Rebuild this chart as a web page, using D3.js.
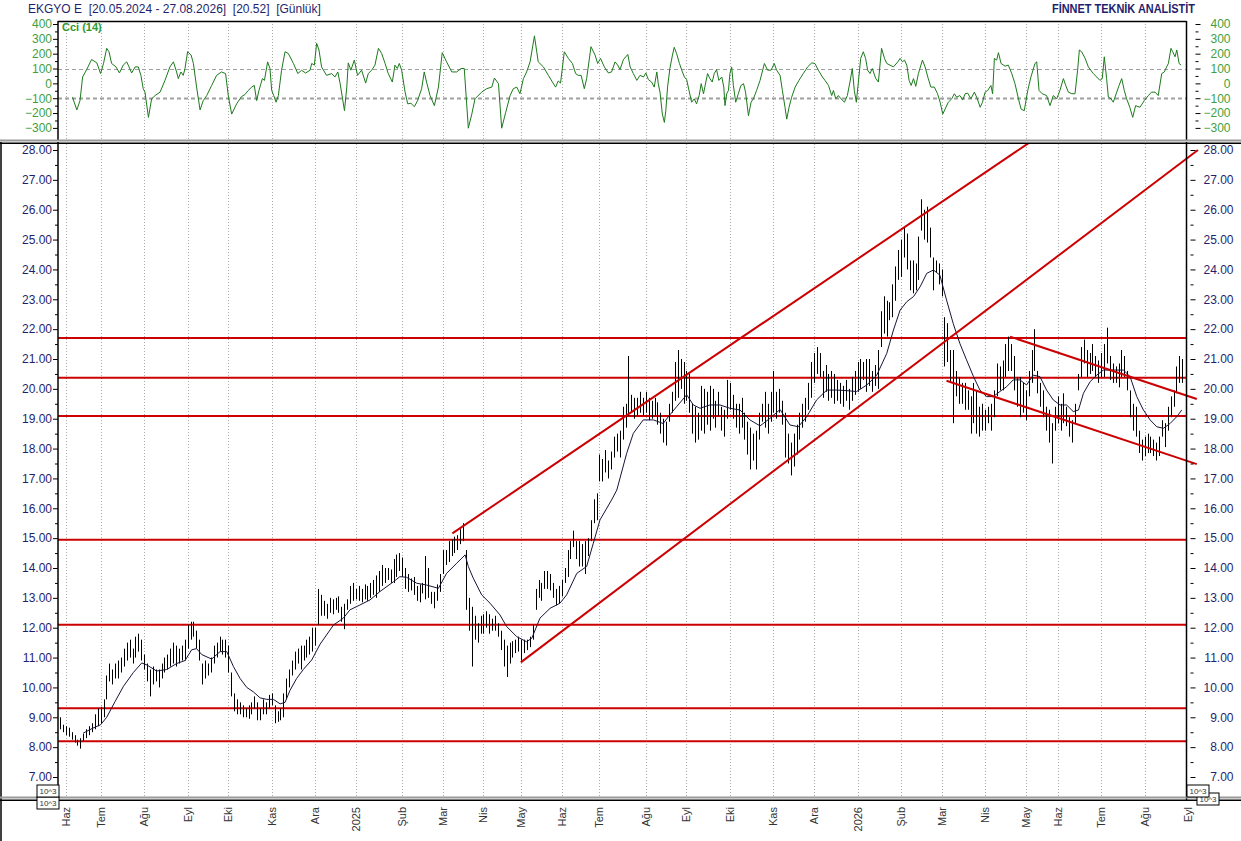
<!DOCTYPE html>
<html>
<head>
<meta charset="utf-8">
<script src="https://cdn.jsdelivr.net/npm/d3@7"></script>
<style>
  body { margin: 0; background: #fff; }
  svg { display: block; }
  text { font-family: Arial, "Liberation Sans", sans-serif; }
</style>
</head>
<body>
<svg width="1241" height="841"></svg>
<script>
// month labels and the bar index where each month starts
const months = ["Haz","Tem","Ağu","Eyl","Eki","Kas","Ara","2025","Şub","Mar","Nis","May","Haz","Tem",
  "Ağu","Eyl","Eki","Kas","Ara","2026","Şub","Mar","Nis","May","Haz","Tem","Ağu","Eyl"];
const monthBar = [2,14,29,44,58,73,88,102,118,132,146,159,173,186,202,216,231,246,260,275,290,304,319,333,344,359,374,389];

// daily highs / lows, one per bar
const high = [
  9.0,8.75,8.7,8.65,8.5,8.4,8.25,8.3,8.45,8.6,
  8.7,8.8,9.1,9.3,9.35,9.6,10.4,10.8,10.6,10.8,
  10.9,11.0,11.3,11.5,11.6,11.3,11.7,11.8,11.6,11.1,
  10.8,10.6,10.7,10.6,10.6,10.8,11.0,11.1,11.3,11.5,
  11.4,11.3,11.4,11.6,12.1,12.2,12.2,11.9,11.6,10.8,
  10.9,10.8,11.0,11.4,11.5,11.7,11.6,11.6,11.4,10.5,
  9.8,9.6,9.5,9.4,9.3,9.4,9.5,9.7,9.5,9.3,
  9.6,9.5,9.75,9.8,9.4,9.2,9.3,9.8,10.3,10.6,
  10.9,11.2,11.3,11.4,11.4,11.6,11.7,12.0,12.0,13.3,
  13.1,12.9,12.8,13.0,12.95,13.0,13.05,12.7,12.8,12.95,
  13.4,13.5,13.3,13.4,13.3,13.45,13.4,13.5,13.6,13.75,
  13.9,14.1,14.0,14.0,13.95,14.3,14.45,14.5,14.35,14.0,
  13.8,13.65,13.7,13.4,13.45,13.5,14.4,14.0,13.2,13.2,
  13.45,13.8,14.6,14.6,14.9,14.95,15.05,15.1,15.3,15.5,
  14.6,13.0,12.7,12.4,12.15,12.4,12.45,12.55,12.45,12.3,
  12.4,12.15,11.9,11.6,11.4,11.5,11.55,11.6,11.7,11.6,
  11.6,11.6,11.7,12.1,13.3,13.6,13.5,13.9,13.9,13.8,
  13.5,13.3,13.4,13.6,14.0,14.6,14.9,15.25,14.9,14.9,
  14.8,14.9,15.0,15.6,16.3,16.5,17.8,17.65,17.95,17.6,
  17.9,18.4,18.5,18.6,19.4,19.5,21.1,19.8,19.7,19.7,
  19.9,19.7,19.9,19.7,19.6,19.7,19.55,19.2,19.0,18.9,
  19.5,19.9,20.9,21.3,21.0,20.9,20.6,20.5,19.5,19.4,
  19.2,20.1,20.0,19.9,20.1,20.0,19.6,19.9,19.4,19.3,
  20.3,20.2,19.8,19.5,19.5,19.7,19.2,18.9,18.7,18.5,
  18.6,19.2,19.5,19.9,19.5,19.9,20.6,19.9,20.0,19.6,
  19.2,18.5,18.2,18.5,18.8,19.2,19.5,19.7,20.2,20.9,
  21.2,21.4,21.2,20.6,20.8,20.5,20.6,20.5,20.3,20.2,
  20.1,20.3,20.0,20.4,20.6,20.9,21.0,20.9,21.0,21.0,
  20.6,20.8,21.3,22.6,23.1,22.95,22.9,23.5,24.1,24.65,
  25.0,25.4,25.2,24.3,24.3,24.2,25.1,26.35,26.0,26.1,
  25.4,24.4,24.3,24.2,24.0,22.4,22.2,21.3,21.3,20.6,
  20.4,20.2,20.2,19.95,19.75,20.2,19.95,19.4,19.5,19.3,
  19.4,19.5,19.95,20.85,20.75,20.95,21.5,21.75,21.5,21.1,
  20.4,20.4,20.2,19.95,20.6,21.3,22.0,20.6,20.2,19.95,
  19.4,19.3,18.85,19.4,19.75,19.5,19.85,19.4,19.05,18.95,
  19.5,20.5,21.4,21.65,21.3,21.2,21.5,21.1,20.95,21.2,
  21.5,22.05,21.1,20.85,20.75,20.85,21.3,21.1,20.6,19.95,
  19.5,19.4,18.6,18.3,18.4,18.5,18.4,18.3,18.2,18.4,
  18.95,18.85,19.4,19.75,19.95,20.75,21.1,21.0
];
const low = [
  8.6,8.5,8.4,8.35,8.25,8.15,8.05,7.95,8.2,8.3,
  8.4,8.5,8.6,8.7,8.8,9.0,9.6,10.2,10.1,10.3,
  10.3,10.5,10.7,10.9,11.0,10.8,11.0,11.2,10.9,10.6,
  10.2,9.7,10.1,10.2,10.0,10.3,10.5,10.6,10.7,10.8,
  10.7,10.8,10.9,10.9,11.3,11.6,11.7,11.3,10.9,10.1,
  10.3,10.4,10.5,10.8,11.0,11.2,11.1,11.0,10.5,9.7,
  9.2,9.1,9.1,9.0,9.0,8.95,9.1,9.3,8.9,8.9,
  9.1,9.1,9.3,9.4,8.8,8.85,8.9,9.0,9.6,10.0,
  10.4,10.6,10.8,10.6,10.9,11.0,11.1,11.2,11.4,12.1,
  12.4,12.4,12.3,12.5,12.45,12.6,12.5,12.2,11.95,12.6,
  12.8,12.9,12.95,12.9,12.85,12.95,12.9,13.0,13.1,13.0,
  13.2,13.4,13.5,13.6,13.5,13.5,13.7,13.9,13.7,13.3,
  13.2,13.25,13.1,12.9,12.85,13.15,12.95,13.0,12.8,12.65,
  12.9,13.2,13.8,14.1,14.2,14.4,14.5,14.6,14.8,14.9,
  12.6,11.9,10.7,11.6,11.5,11.8,11.8,12.0,11.8,11.9,
  11.9,11.7,11.25,10.7,10.35,10.8,11.0,11.15,11.2,10.9,
  11.15,11.25,11.35,11.6,12.6,13.0,12.9,13.3,13.3,13.25,
  13.0,12.75,12.8,13.05,13.5,13.7,14.3,14.7,14.3,14.05,
  14.05,13.8,14.4,14.9,15.5,15.6,16.9,16.9,17.2,17.0,
  17.3,17.7,17.9,17.7,18.3,18.7,19.1,19.2,19.0,19.1,
  19.2,19.1,19.2,18.95,19.0,19.1,18.8,18.5,18.2,18.1,
  18.9,19.2,19.6,19.7,20.0,19.5,19.6,19.2,18.5,18.2,
  18.3,18.6,18.5,18.8,18.6,19.0,18.7,19.1,18.6,18.4,
  19.0,19.3,19.0,18.7,18.5,18.7,18.3,17.8,17.3,17.6,
  17.3,18.3,18.9,18.7,18.5,18.9,19.2,19.0,19.2,18.8,
  17.7,17.5,17.1,17.4,17.8,18.3,18.7,18.9,19.3,19.7,
  20.2,20.5,20.4,19.7,19.9,19.6,19.7,19.5,19.6,19.5,
  19.4,19.6,19.3,19.6,19.8,19.9,20.0,20.3,19.9,20.1,
  19.9,20.1,20.0,21.4,21.85,21.75,22.3,22.4,22.95,23.65,
  23.75,24.4,24.0,23.3,23.2,23.3,23.65,25.3,25.0,24.9,
  24.4,23.3,23.9,23.5,23.1,20.75,20.9,20.2,18.85,19.75,
  19.5,19.5,19.3,19.3,18.5,18.85,18.5,18.4,18.6,18.6,
  18.85,18.6,19.05,19.75,19.95,19.95,20.4,20.6,20.6,19.95,
  19.4,19.05,19.2,18.95,19.75,20.2,20.6,19.85,19.4,19.05,
  18.6,18.2,17.5,18.6,18.85,18.6,18.85,18.75,18.4,18.2,
  18.85,19.95,20.4,20.85,20.4,20.5,20.6,20.4,20.2,20.4,
  20.4,20.85,20.3,20.2,20.2,20.05,20.4,20.4,19.95,19.05,
  18.6,18.4,17.85,17.6,17.75,17.85,17.85,17.75,17.6,17.75,
  18.4,18.05,18.6,19.05,19.4,19.85,20.2,20.2
];

// moving average, [bar, value]
const maPts = [
  [8,8.47],[11.4,8.64],[14,8.75],[16.1,9.0],[19,9.53],[21.9,10.04],[25.3,10.5],[28.2,10.82],[30,10.75],
  [33.3,10.55],[36.8,10.6],[40.2,10.8],[43.1,10.9],[45.4,11.26],[47.1,11.3],[48.9,11.1],[52.3,10.95],
  [55.2,11.2],[57.5,11.2],[59.8,10.7],[62.1,10.3],[64.4,10.0],[66.7,9.85],[69,9.65],[71.3,9.6],[73.6,9.6],
  [75.9,9.45],[77.6,9.5],[79.3,9.9],[81.6,10.3],[83.9,10.6],[86.8,10.92],[89.7,11.45],[94.3,12.09],
  [97.7,12.32],[100,12.6],[103.4,12.76],[106.9,12.93],[110.3,13.21],[115,13.54],[117.2,13.71],[119.5,13.69],
  [123,13.49],[126.4,13.43],[130.5,13.32],[133.3,13.82],[136.8,14.16],[139.7,14.44],[140.8,14.05],
  [142.5,13.66],[145.4,13.1],[148.3,12.82],[151.7,12.43],[154,12.04],[157.5,11.7],[160.9,11.53],
  [162.7,11.65],[165.5,12.32],[169,12.65],[172.4,12.82],[174.7,13.1],[178.2,13.82],[181.6,14.05],
  [183.9,14.83],[186.2,15.61],[190.2,16.28],[192,16.61],[195.4,17.84],[197.7,18.51],[201.1,18.96],
  [204.6,18.96],[208,18.84],[209.8,19.07],[212.6,19.4],[216.1,19.8],[218.4,19.46],[220.7,19.35],
  [224.1,19.46],[227.6,19.46],[231,19.35],[234.5,19.29],[237.9,18.96],[241.4,18.76],[244.8,19.01],
  [248.3,19.31],[251.7,18.79],[254.6,18.73],[257.5,19.07],[260.9,19.63],[264.4,19.96],[267.8,19.96],
  [271.3,19.94],[274.7,19.91],[278.2,20.13],[281.6,20.45],[285.1,21.19],[287.4,21.97],[289.7,22.64],
  [292,22.92],[294.3,23.09],[296.6,23.42],[298.9,23.87],[301.2,23.98],[303.4,23.81],[305.7,22.98],
  [308,22.19],[310.3,21.52],[312.6,20.97],[315,20.41],[317.2,19.96],[319.5,19.74],[321.8,19.74],
  [324.1,19.91],[326.4,20.07],[328.7,20.3],[331,20.3],[333.3,20.13],[335.6,20.46],[337.9,20.41],
  [340.2,19.96],[342.5,19.63],[344.8,19.46],[347.1,19.46],[349.4,19.24],[351.2,19.29],[352.9,19.85],
  [355.2,20.24],[357.5,20.46],[359.8,20.63],[363.2,20.63],[366.7,20.63],[369,20.41],[371.3,19.74],
  [373.6,19.29],[375.9,18.96],[378.2,18.73],[380.5,18.68],[382.8,18.84],[385.1,19.07],[386.8,19.29]
];

// CCI(14), [bar, value]
const cciPts = [
  [4.3,-93],[5.8,-179],[6.9,-116],[7.8,43],[9.2,93],[10.9,161],[12.7,138],[14.0,66],[15.0,134],[16.1,236],
  [16.9,213],[17.8,134],[19.3,111],[20.5,70],[21.8,123],[23.0,145],[23.8,111],[24.7,70],[25.9,111],[27.0,111],
  [27.9,54],[28.7,-36],[29.3,-59],[30.5,-229],[31.6,-104],[32.8,-82],[34.5,-59],[36.2,20],[37.9,111],[39.1,145],
  [40.2,77],[40.8,32],[41.7,77],[42.5,54],[43.1,100],[44.0,213],[45.2,191],[46.0,134],[47.1,-25],[48.3,-179],
  [49.4,-116],[50.6,-82],[52.3,-14],[54.0,54],[55.7,77],[57.1,66],[58.1,-93],[59.2,-207],[60.9,-138],[62.6,-89],
  [63.8,-75],[64.9,-48],[66.1,-25],[67.0,-14],[67.8,-116],[68.6,-48],[69.8,32],[70.5,20],[71.6,145],[72.4,100],
  [73.0,-48],[73.7,-82],[74.5,-127],[75.3,-82],[76.4,88],[77.6,213],[78.7,202],[80.5,134],[82.0,66],[83.3,88],
  [84.7,70],[86.2,88],[86.8,134],[87.7,123],[88.5,270],[89.3,225],[90.2,111],[91.9,54],[93.7,66],[94.8,43],
  [95.8,77],[96.6,-2],[98.1,-184],[98.9,-25],[99.4,138],[100.3,89],[101.5,157],[102.6,54],[104.0,89],[105.4,2],
  [106.3,66],[107.5,89],[108.6,123],[109.8,236],[110.9,202],[112.1,134],[113.2,66],[114.6,9],[115.5,123],[116.3,100],
  [117.0,134],[117.8,89],[119.0,-59],[119.9,-138],[121.0,-134],[122.2,-157],[123.3,-116],[124.7,-36],[125.6,77],[126.4,9],
  [127.6,-82],[129.1,-150],[130.5,-25],[131.8,207],[133.3,145],[135.1,77],[136.8,77],[138.3,100],[139.4,100],[140.8,-302],
  [142.0,-207],[143.1,-104],[145.4,-59],[147.1,-36],[148.9,-25],[149.8,36],[151.2,-2],[152.3,-302],[153.7,-195],[155.2,-82],
  [156.3,-36],[157.5,-25],[158.6,-70],[159.8,32],[160.9,77],[162.1,145],[163.6,320],[164.9,145],[166.7,111],[168.4,54],
  [169.8,9],[170.9,-25],[171.8,16],[172.6,2],[173.9,213],[175.3,168],[176.7,134],[177.8,66],[178.7,54],[179.7,54],
  [180.8,-36],[181.6,32],[183.1,247],[184.5,191],[185.4,134],[186.4,168],[187.7,111],[189.1,70],[190.2,77],[191.4,145],
  [192.3,123],[193.1,93],[194.3,161],[195.8,195],[196.6,111],[197.7,66],[198.9,20],[200.0,54],[201.2,43],[202.0,70],
  [202.9,25],[204.0,9],[204.9,-25],[205.8,77],[206.3,-2],[206.9,-59],[207.7,-207],[208.4,-263],[208.9,-184],[209.5,-25],
  [210.3,100],[211.2,191],[211.8,243],[212.6,202],[213.6,134],[214.4,89],[215.3,43],[216.1,25],[216.9,-48],[217.8,-127],
  [218.7,-104],[219.5,-138],[220.4,-82],[221.1,-2],[221.9,-70],[222.7,9],[223.3,66],[224.1,32],[224.9,9],[225.6,66],
  [226.4,93],[227.2,20],[228.2,43],[228.9,-25],[229.3,-150],[229.9,-70],[230.5,-48],[231.0,66],[231.6,111],[232.2,-14],
  [233.0,-127],[233.9,-70],[234.8,-14],[235.7,-2],[236.4,-59],[237.4,-218],[238.3,-127],[239.1,-104],[240.2,-48],[241.4,20],
  [242.9,134],[244.0,89],[245.2,89],[246.3,134],[247.1,89],[248.3,54],[249.1,-48],[250.0,-161],[250.6,-241],[251.4,-161],
  [252.3,-93],[253.5,-25],[254.8,20],[256.3,66],[257.8,111],[259.2,138],[260.3,134],[261.5,89],[262.9,43],[263.8,20],
  [265.0,-14],[266.1,-82],[266.7,-48],[267.5,-104],[268.4,-82],[269.3,-104],[270.5,-127],[271.5,-82],[272.4,9],[273.2,100],
  [273.9,-48],[274.6,-127],[275.3,9],[276.1,168],[277.0,213],[277.8,168],[278.5,89],[279.3,66],[280.1,100],[281.3,32],
  [282.2,9],[283.3,236],[284.3,168],[285.1,134],[286.2,123],[287.4,111],[288.9,145],[289.7,168],[290.5,145],[291.2,157],
  [292.0,123],[292.8,20],[293.5,-14],[294.3,32],[295.1,-20],[296.0,66],[297.4,157],[298.3,111],[299.4,32],[300.3,-25],
  [301.5,-25],[302.6,-70],[303.5,-127],[304.4,-207],[305.2,-173],[306.3,-127],[307.5,-104],[308.4,-70],[309.2,-93],[310.3,-82],
  [311.3,-111],[312.1,-70],[313.0,-66],[314.1,-104],[315.3,-59],[316.1,-93],[317.3,-161],[318.1,-127],[319.0,-59],[319.9,-48],
  [321.0,-14],[321.6,-70],[322.2,168],[323.0,157],[323.6,207],[324.5,134],[325.9,116],[327.0,123],[328.2,66],[329.3,-2],
  [330.5,-104],[331.4,-173],[332.5,-184],[333.7,-48],[334.8,43],[336.2,134],[336.8,145],[337.6,-48],[338.7,-70],[340.2,-82],
  [341.4,-150],[342.5,-82],[343.7,-104],[344.8,-48],[346.0,32],[346.8,-14],[347.7,-59],[348.9,-70],[350.0,-70],[350.9,89],
  [351.5,225],[352.3,213],[353.5,168],[354.6,111],[356.3,66],[357.5,43],[358.6,20],[359.4,32],[360.1,179],[360.9,32],
  [361.5,-93],[362.4,-104],[363.2,-127],[364.4,-59],[365.2,-14],[366.1,32],[367.0,-48],[367.8,-104],[368.9,-161],[369.9,-229],
  [370.9,-150],[372.4,-161],[373.9,-116],[375.3,-82],[376.4,-59],[377.6,-59],[378.7,-82],[379.9,66],[380.8,77],[381.6,111],
  [382.2,134],[383.1,236],[383.7,213],[384.5,179],[385.1,225],[385.9,134],[386.6,123]
];

// drawn support / resistance levels and trend lines ([bar, price] end points)
const levels = [21.7, 20.37, 19.09, 14.95, 12.1, 9.3, 8.2];
const trendLines = [
  [[135.3, 15.16], [334, 28.23]],
  [[158.9, 10.84], [392.4, 28.0]],
  [[327.6, 21.75], [392, 19.66]],
  [[305.7, 20.27], [392, 17.48]]
];
const cciLevels = [100, -100];

const svg = d3.select("svg");
const L = 58, R = 1186.5;
const cciTop = 21, cciBot = 140;
const pTop = 144, pBot = 797;
const navy = "#1f1f6e", green = "#3f9f3f";

const x = d3.scaleLinear().domain([0, 387]).range([60, 1182.3]);
const yP = d3.scaleLinear().domain([7, 28]).range([777, 150]);
const yC = d3.scaleLinear().domain([-300, 400]).range([127.9, 24]);

// header
svg.append("text")
  .attr("x", 28).attr("y", 13)
  .attr("fill", navy)
  .style("font-size", "12px")
  .style("white-space", "pre")
  .text("EKGYO E  [20.05.2024 - 27.08.2026]  [20.52]  [Günlük]");

svg.append("text")
  .attr("x", 1195).attr("y", 13)
  .attr("text-anchor", "end")
  .attr("fill", navy)
  .style("font-size", "12px")
  .style("font-weight", "bold")
  .attr("textLength", 143)
  .attr("lengthAdjust", "spacingAndGlyphs")
  .text("FİNNET TEKNİK ANALİSTİT");

// month grid lines
const gridBars = monthBar.filter(d => x(d) < R - 2);
const grid = svg.append("g")
  .attr("stroke", "#a9a9a9")
  .attr("stroke-dasharray", "1,2");
[[cciTop, cciBot], [pTop, pBot]].forEach(([a, b]) => {
  grid.append("g").selectAll("line")
    .data(gridBars)
    .join("line")
    .attr("x1", d => Math.round(x(d)) + 0.5)
    .attr("x2", d => Math.round(x(d)) + 0.5)
    .attr("y1", a)
    .attr("y2", b);
});

// cci reference lines
svg.append("g").selectAll("line")
  .data(cciLevels)
  .join("line")
  .attr("x1", L).attr("x2", R)
  .attr("y1", d => Math.round(yC(d)) + 0.5)
  .attr("y2", d => Math.round(yC(d)) + 0.5)
  .attr("stroke", "#a0a0a0")
  .attr("stroke-width", d => d < 0 ? 2 : 1)
  .attr("stroke-dasharray", "4,3");

// cci line
svg.append("path")
  .datum(cciPts)
  .attr("fill", "none")
  .attr("stroke", "#1c7a1c")
  .attr("stroke-width", 1)
  .attr("d", d3.line().x(d => x(d[0])).y(d => yC(d[1])));

svg.append("text")
  .attr("x", 62).attr("y", 31)
  .attr("fill", "#2e9a2e")
  .style("font-size", "11px")
  .style("font-weight", "bold")
  .text("Cci (14)");

// horizontal levels
svg.append("g").selectAll("line")
  .data(levels)
  .join("line")
  .attr("x1", L).attr("x2", R)
  .attr("y1", d => yP(d))
  .attr("y2", d => yP(d))
  .attr("stroke", "#cc0000")
  .attr("stroke-width", 2);

// price bars
svg.append("g").selectAll("line")
  .data(high)
  .join("line")
  .attr("x1", (d, i) => Math.round(x(i)) + 0.5)
  .attr("x2", (d, i) => Math.round(x(i)) + 0.5)
  .attr("y1", d => yP(d))
  .attr("y2", (d, i) => yP(low[i]))
  .attr("stroke", "#000")
  .attr("stroke-width", 1);

// moving average
svg.append("path")
  .datum(maPts)
  .attr("fill", "none")
  .attr("stroke", "#15153a")
  .attr("stroke-width", 1)
  .attr("d", d3.line().x(d => x(d[0])).y(d => yP(d[1])));

// trend lines
svg.append("clipPath").attr("id", "pclip")
  .append("rect").attr("x", L).attr("y", pTop).attr("width", 1241 - L).attr("height", pBot - pTop);

svg.append("g").attr("clip-path", "url(#pclip)")
  .selectAll("line")
  .data(trendLines)
  .join("line")
  .attr("x1", d => x(d[0][0])).attr("y1", d => yP(d[0][1]))
  .attr("x2", d => x(d[1][0])).attr("y2", d => yP(d[1][1]))
  .attr("stroke", "#cc0000")
  .attr("stroke-width", 2);

// price axes
function styleAxis(g, color) {
  g.select(".domain").remove();
  g.selectAll(".tick line").attr("stroke", "#000");
  g.selectAll(".tick text").attr("fill", color).style("font-size", "12px")
    .style("font-family", "Arial, 'Liberation Sans', sans-serif");
}

const priceTicks = d3.range(7, 29);
const priceMinor = d3.range(7.5, 28, 1);

svg.append("g").attr("transform", `translate(${L},0)`)
  .call(d3.axisLeft(yP).tickValues(priceTicks).tickFormat(d3.format(".2f")).tickSize(5).tickPadding(1))
  .call(g => styleAxis(g, navy));
svg.append("g").attr("transform", `translate(${L},0)`)
  .call(d3.axisLeft(yP).tickValues(priceMinor).tickFormat("").tickSize(3))
  .call(g => styleAxis(g, navy));

svg.append("g").attr("transform", `translate(${R + 4},0)`)
  .call(d3.axisRight(yP).tickValues(priceTicks).tickFormat(d3.format(".2f")).tickSize(5))
  .call(g => styleAxis(g, navy))
  .call(g => g.selectAll(".tick text").attr("text-anchor", "end").attr("x", 43));
svg.append("g").attr("transform", `translate(${R + 4},0)`)
  .call(d3.axisRight(yP).tickValues(priceMinor).tickFormat("").tickSize(3))
  .call(g => styleAxis(g, navy));

// cci axes
const cciTicks = d3.range(-300, 401, 100);
const cciMinor = d3.range(-250, 400, 100);

svg.append("g").attr("transform", `translate(${L},0)`)
  .call(d3.axisLeft(yC).tickValues(cciTicks).tickSize(5).tickPadding(1))
  .call(g => styleAxis(g, green));
svg.append("g").attr("transform", `translate(${L},0)`)
  .call(d3.axisLeft(yC).tickValues(cciMinor).tickFormat("").tickSize(3))
  .call(g => styleAxis(g, green));

svg.append("g").attr("transform", `translate(${R + 9},0)`)
  .call(d3.axisRight(yC).tickValues(cciTicks).tickSize(5))
  .call(g => styleAxis(g, green))
  .call(g => g.selectAll(".tick text").attr("text-anchor", "end").attr("x", 35));
svg.append("g").attr("transform", `translate(${R + 9},0)`)
  .call(d3.axisRight(yC).tickValues(cciMinor).tickFormat("").tickSize(3))
  .call(g => styleAxis(g, green));

// frames and separators
const frame = svg.append("g").attr("fill", "none");
frame.append("line").attr("x1", L).attr("x2", R).attr("y1", cciTop + 0.5).attr("y2", cciTop + 0.5)
  .attr("stroke", "#000").attr("stroke-width", 1.5);
frame.append("line").attr("x1", L).attr("x2", L).attr("y1", cciTop).attr("y2", cciBot)
  .attr("stroke", "#000").attr("stroke-width", 1.5);
frame.append("line").attr("x1", R).attr("x2", R).attr("y1", cciTop).attr("y2", cciBot)
  .attr("stroke", "#000").attr("stroke-width", 1.5);
frame.append("line").attr("x1", L).attr("x2", L).attr("y1", 142).attr("y2", 800)
  .attr("stroke", "#000").attr("stroke-width", 1.5);
frame.append("line").attr("x1", R).attr("x2", R).attr("y1", 142).attr("y2", 800)
  .attr("stroke", "#000").attr("stroke-width", 1.5);
frame.append("line").attr("x1", 1).attr("x2", 1).attr("y1", 142).attr("y2", 841)
  .attr("stroke", "#000").attr("stroke-width", 1.5);

[[140.5, 797.5]].forEach(([a, b]) => {
  [a, b].forEach(yy => {
    frame.append("line").attr("x1", 0).attr("x2", 1241).attr("y1", yy).attr("y2", yy)
      .attr("stroke", "#9a9a9a").attr("stroke-width", 2);
    frame.append("line").attr("x1", 0).attr("x2", 1241).attr("y1", yy + 2.7).attr("y2", yy + 2.7)
      .attr("stroke", "#000").attr("stroke-width", 1.5);
  });
});

// 10^3 boxes
[[37, 797, 37, 785], [1197, 793, 1187, 785]].forEach(([bx2, by2, bx, by]) => {
  const b2 = svg.append("g");
  b2.append("rect").attr("x", bx2).attr("y", by2).attr("width", 22).attr("height", 12)
    .attr("fill", "#fff").attr("stroke", "#000");
  b2.append("text").attr("x", bx2 + 11).attr("y", by2 + 9).attr("text-anchor", "middle")
    .style("font-size", "8px").attr("fill", "#333").text("10^3");
  const b = svg.append("g");
  b.append("rect").attr("x", bx).attr("y", by).attr("width", 22).attr("height", 12)
    .attr("fill", "#fff").attr("stroke", "#000");
  b.append("text").attr("x", bx + 11).attr("y", by + 9).attr("text-anchor", "middle")
    .style("font-size", "8px").attr("fill", "#333").text("10^3");
});

// date labels
svg.append("g").selectAll("text")
  .data(months)
  .join("text")
  .attr("transform", (d, i) => `translate(${Math.round(x(monthBar[i])) + 4},807) rotate(-90)`)
  .attr("text-anchor", "end")
  .attr("fill", "#333")
  .style("font-size", "11px")
  .text(d => d);
</script>
</body>
</html>
